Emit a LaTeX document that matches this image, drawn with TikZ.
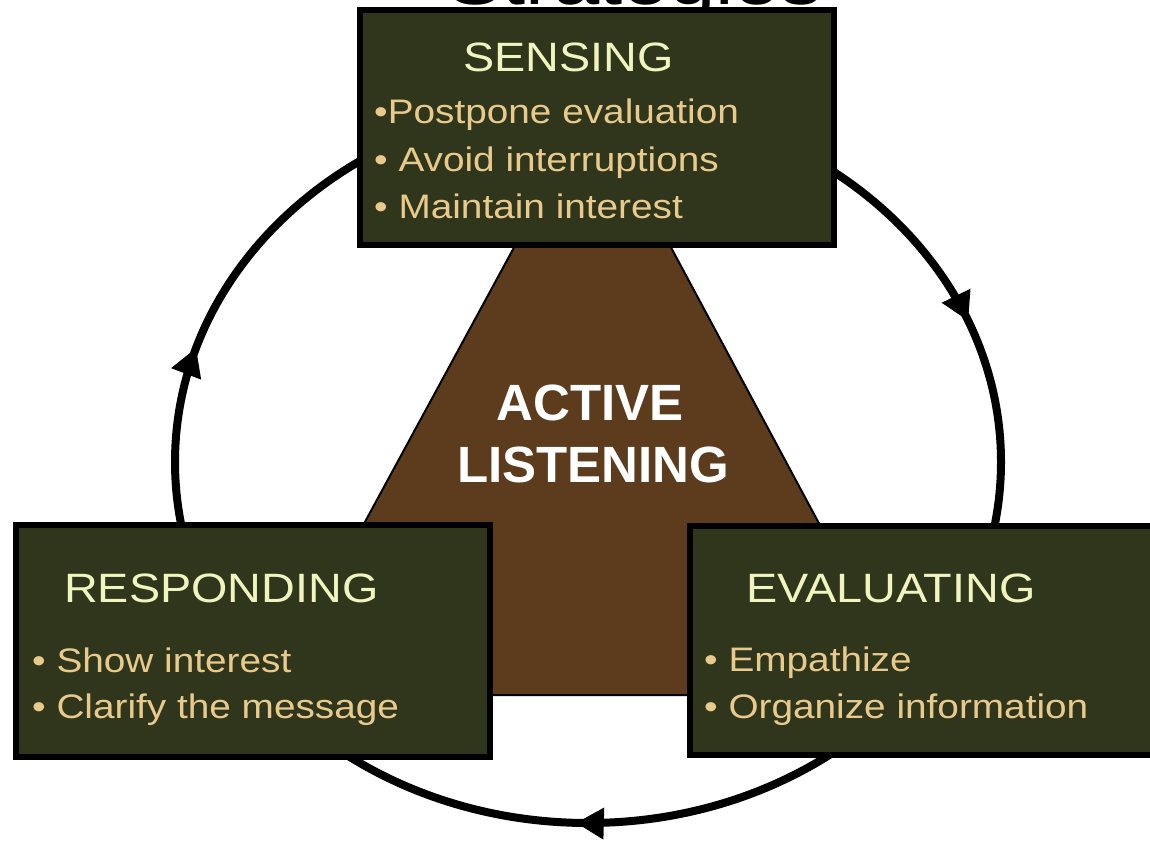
\documentclass[tikz,border=0pt]{standalone}
\usepackage{fontspec}
\setmainfont{Liberation Sans}
\newfontfamily\widefont[FakeStretch=1.14]{Liberation Sans}
\usetikzlibrary{arrows.meta,decorations.markings}

\definecolor{boxfill}{RGB}{47,54,28}
\definecolor{titlecol}{RGB}{240,244,190}
\definecolor{itemcol}{RGB}{232,202,140}
\definecolor{coreBrown}{RGB}{92,60,28}

\begin{document}
\begin{tikzpicture}[x=1pt,y=-1pt,
  panel/.style={draw=black,line width=6pt,fill=boxfill,inner sep=0pt},
  heading/.style={anchor=base west,inner sep=0pt,text=titlecol,
    font=\widefont\fontsize{41}{49}\selectfont},
  item/.style={anchor=base west,inner sep=0pt,text=itemcol,
    font=\widefont\fontsize{34}{41}\selectfont},
  core/.style={anchor=base,inner sep=0pt,text=white,
    font=\bfseries\fontsize{51}{61}\selectfont},
  cycletip/.tip={Triangle[length=28pt,width=30pt]},
  cyclepath/.style={draw=black,line width=8pt,postaction={decorate},
    decoration={markings,
      mark=at position 0.255 with {\arrow{cycletip}},
      mark=at position 0.548 with {\arrow{cycletip}},
      mark=at position 0.94 with {\arrow{cycletip}}}}
]
\useasboundingbox (0,0) rectangle (1150,840);

% title line, mostly cut off by the top edge
\node[anchor=base west,inner sep=0pt,text=black,
  font=\widefont\fontsize{73}{80}\selectfont] (title) at (447,5) {Strategies};

% the listening cycle, clockwise
\path[cyclepath] (588,462) ellipse [x radius=413, y radius=361];

% central triangle
\draw[fill=coreBrown,line width=2pt] (593,102) -- (911,695) -- (271,695) -- cycle;
\node[core] (coreA) at (590,420) {ACTIVE};
\node[core] (coreB) at (593,482) {LISTENING};

% stage panels
\node[panel,minimum width=474pt,minimum height=235pt] (sensing) at (597,127.5) {};
\node[panel,minimum width=474pt,minimum height=232pt] (responding) at (253,641) {};
\node[panel,minimum width=466pt,minimum height=229pt] (evaluating) at (923,640.5) {};

% sensing
\node[heading] (sensT) at (463,72) {SENSING};
\node[item] (sens1) at (374,124) {•Postpone evaluation};
\node[item] (sens2) at (374,171) {• Avoid interruptions};
\node[item] (sens3) at (374,218) {• Maintain interest};

% responding
\node[heading] (respT) at (64,602) {RESPONDING};
\node[item] (resp1) at (32,672) {• Show interest};
\node[item] (resp2) at (32,718) {• Clarify the message};

% evaluating
\node[heading] (evalT) at (746,602) {EVALUATING};
\node[item] (eval1) at (704,671) {• Empathize};
\node[item] (eval2) at (704,718) {• Organize information};
\end{tikzpicture}
\end{document}
